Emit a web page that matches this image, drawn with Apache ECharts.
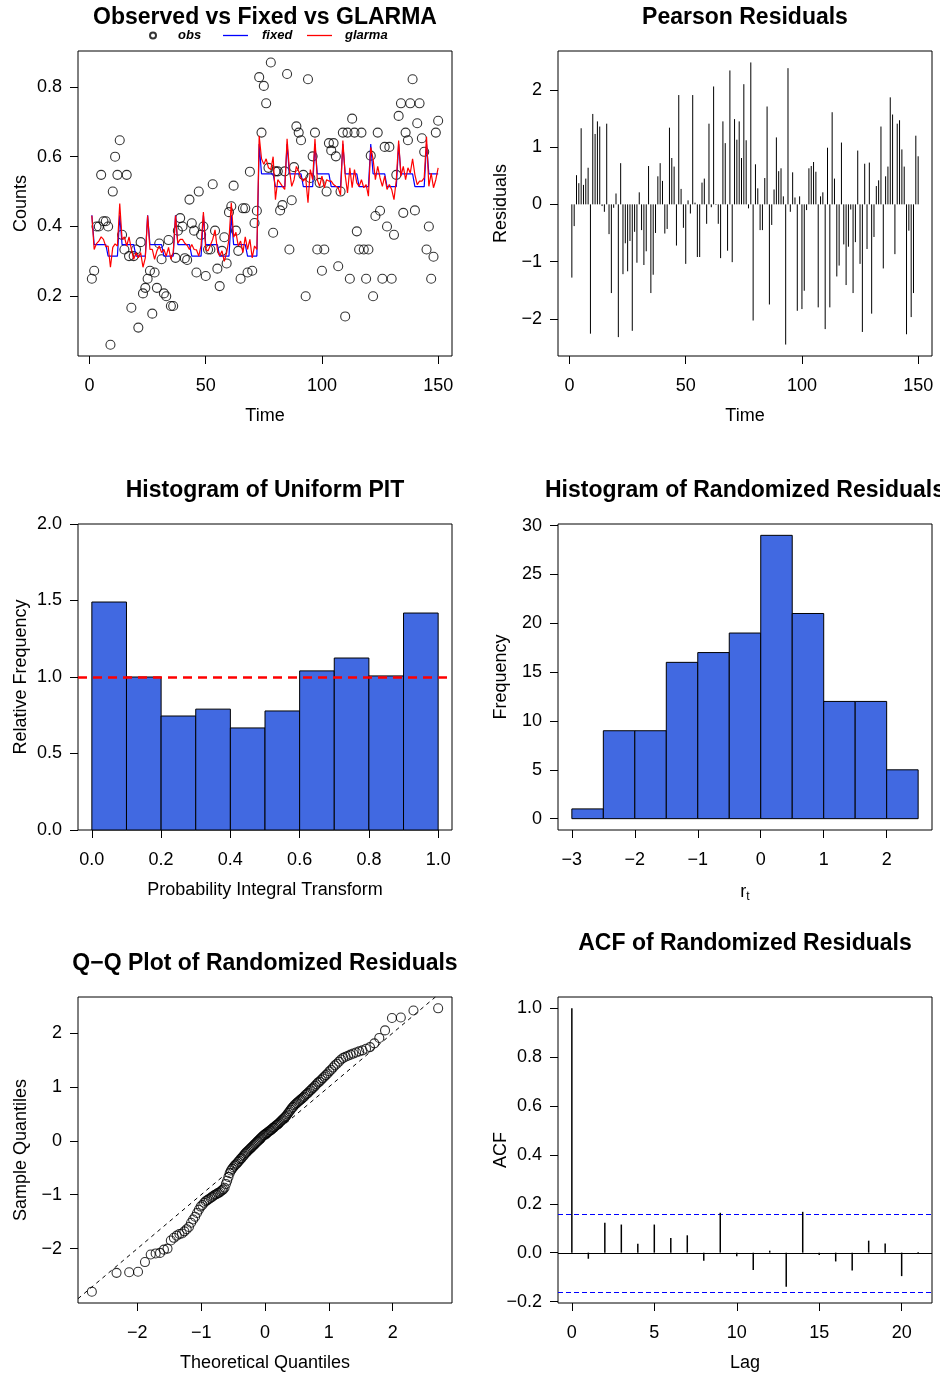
<!DOCTYPE html>
<html>
<head>
<meta charset="utf-8">
<script src="https://cdn.jsdelivr.net/npm/echarts@6/dist/echarts.min.js"></script>
<style>
  html, body { margin: 0; padding: 0; background: #fff; }
  #chart { width: 940px; height: 1377px; }
</style>
</head>
<body>
<div id="chart"></div>
<script>
// observed proportions, fixed-effects fit and GLARMA fit, t = 1..150
const obsCounts = [
  0.25, 0.273, 0.40, 0.40, 0.548, 0.415, 0.415, 0.40, 0.061, 0.50,
  0.60, 0.548, 0.647, 0.376, 0.334, 0.548, 0.315, 0.167, 0.315, 0.334,
  0.11, 0.355, 0.208, 0.224, 0.25, 0.273, 0.15, 0.268, 0.224, 0.351,
  0.306, 0.208, 0.20, 0.361, 0.172, 0.172, 0.31, 0.388, 0.424, 0.40,
  0.309, 0.304, 0.477, 0.409, 0.388, 0.268, 0.50, 0.376, 0.40, 0.258,
  0.334, 0.334, 0.521, 0.388, 0.279, 0.229, 0.33, 0.369, 0.294, 0.441,
  0.458, 0.517, 0.388, 0.33, 0.25, 0.452, 0.452, 0.268, 0.557, 0.273,
  0.41, 0.445, 0.828, 0.669, 0.803, 0.753, 0.568, 0.87, 0.382, 0.558,
  0.558, 0.446, 0.461, 0.558, 0.837, 0.334, 0.475, 0.57, 0.687, 0.669,
  0.647, 0.548, 0.20, 0.822, 0.539, 0.601, 0.669, 0.334, 0.525, 0.273,
  0.334, 0.50, 0.639, 0.618, 0.639, 0.601, 0.286, 0.50, 0.669, 0.142,
  0.669, 0.25, 0.709, 0.669, 0.386, 0.334, 0.669, 0.334, 0.25, 0.334,
  0.603, 0.20, 0.43, 0.669, 0.445, 0.25, 0.628, 0.40, 0.628, 0.25,
  0.376, 0.548, 0.717, 0.753, 0.439, 0.669, 0.647, 0.753, 0.822, 0.446,
  0.696, 0.753, 0.653, 0.614, 0.334, 0.40, 0.25, 0.313, 0.669, 0.703
];
const fixedFit = [
  0.432, 0.348, 0.348, 0.348, 0.348, 0.348, 0.348, 0.315, 0.315, 0.315, 0.315, 0.315,
  0.432, 0.348, 0.348, 0.348, 0.348, 0.348, 0.348, 0.315, 0.315, 0.315, 0.315, 0.315,
  0.432, 0.348, 0.348, 0.348, 0.348, 0.348, 0.348, 0.315, 0.315, 0.315, 0.315, 0.315,
  0.432, 0.348, 0.348, 0.348, 0.348, 0.348, 0.348, 0.315, 0.315, 0.315, 0.315, 0.315,
  0.432, 0.348, 0.348, 0.348, 0.348, 0.348, 0.348, 0.315, 0.315, 0.315, 0.315, 0.315,
  0.432, 0.348, 0.348, 0.348, 0.348, 0.348, 0.348, 0.315, 0.315, 0.315, 0.315, 0.315,
  0.636, 0.551, 0.551, 0.551, 0.551, 0.551, 0.551, 0.514, 0.514, 0.514, 0.514, 0.514,
  0.636, 0.551, 0.551, 0.551, 0.551, 0.551, 0.551, 0.514, 0.514, 0.514, 0.514, 0.514,
  0.636, 0.551, 0.551, 0.551, 0.551, 0.551, 0.551, 0.514, 0.514, 0.514, 0.514, 0.514,
  0.636, 0.551, 0.551, 0.551, 0.551, 0.551, 0.551, 0.514, 0.514, 0.514, 0.514, 0.514,
  0.636, 0.551, 0.551, 0.551, 0.551, 0.551, 0.551, 0.514, 0.514, 0.514, 0.514, 0.514,
  0.636, 0.551, 0.551, 0.551, 0.551, 0.551, 0.551, 0.514, 0.514, 0.514, 0.514, 0.514,
  0.636, 0.551, 0.551, 0.551, 0.551, 0.551
];
const glarmaFit = [
  0.431, 0.334, 0.351, 0.358, 0.37, 0.363, 0.342, 0.344, 0.283, 0.34,
  0.35, 0.344, 0.466, 0.363, 0.37, 0.344, 0.37, 0.334, 0.306, 0.325,
  0.31, 0.325, 0.283, 0.31, 0.431, 0.334, 0.334, 0.306, 0.33, 0.344,
  0.325, 0.334, 0.315, 0.34, 0.306, 0.325, 0.431, 0.352, 0.363, 0.363,
  0.352, 0.346, 0.334, 0.348, 0.334, 0.333, 0.315, 0.346, 0.441, 0.334,
  0.33, 0.346, 0.363, 0.39, 0.334, 0.315, 0.33, 0.30, 0.325, 0.363,
  0.468, 0.369, 0.383, 0.344, 0.358, 0.325, 0.37, 0.334, 0.363, 0.31,
  0.344, 0.334, 0.66, 0.594, 0.578, 0.594, 0.568, 0.563, 0.60, 0.477,
  0.534, 0.525, 0.515, 0.506, 0.651, 0.563, 0.515, 0.534, 0.572, 0.558,
  0.539, 0.53, 0.539, 0.468, 0.563, 0.534, 0.651, 0.534, 0.515, 0.544,
  0.511, 0.534, 0.53, 0.53, 0.52, 0.515, 0.511, 0.49, 0.646, 0.548,
  0.496, 0.568, 0.511, 0.563, 0.525, 0.515, 0.534, 0.511, 0.52, 0.487,
  0.627, 0.594, 0.534, 0.572, 0.539, 0.515, 0.544, 0.506, 0.52, 0.506,
  0.477, 0.534, 0.646, 0.544, 0.572, 0.534, 0.568, 0.553, 0.594, 0.548,
  0.52, 0.53, 0.53, 0.539, 0.657, 0.515, 0.553, 0.511, 0.534, 0.568
];
const pearsonResid = [
  -1.28, -0.38, 0.51, 0.37, 1.33, 0.34, 0.45, 0.64, -2.26, 1.58,
  1.23, 1.45, 1.36, -0.03, -0.13, 1.41, -0.52, -1.55, -0.06, 0.19,
  -2.32, 0.72, -1.22, -0.68, -1.17, -0.64, -2.21, -0.48, -1.02, 0.21,
  -0.45, -1.06, -0.82, 0.67, -1.55, -1.23, -0.50, 0.49, 0.72, 0.41,
  -0.51, -0.43, 1.34, 0.81, 0.66, -0.72, 1.91, 0.27, -0.41, -1.04,
  0.07, -0.16, 1.91, 0.03, -0.92, -0.92, 0.38, 0.45, -0.34, 1.41,
  -0.05, 2.06, -0.01, -0.34, -0.94, 1.45, 1.07, -0.81, 2.34, -1.01,
  1.49, 1.13, 1.45, 0.81, 2.10, 1.12, -0.07, 2.48, -2.03, 0.70,
  0.28, -0.45, -0.45, 0.46, 1.71, -1.75, -0.36, 0.26, 1.17, 0.58,
  0.63, 0.14, -2.45, 2.38, -0.13, 0.56, 0.12, -1.86, 0.14, -1.83,
  -1.51, -0.10, 0.63, 0.67, 0.74, 0.57, -1.80, 0.14, 0.21, -2.18,
  0.99, -1.80, 1.61, 0.45, -1.26, -1.07, 1.08, -0.70, -1.41, -0.74,
  -0.09, -1.55, -0.66, 0.94, -1.04, -2.23, 0.71, -0.78, 0.73, -1.91,
  -0.57, 0.32, 0.42, 1.36, -1.12, 0.49, 0.66, 1.87, 1.57, -0.87,
  1.41, 1.47, 0.96, 0.66, -2.27, -0.46, -1.97, -1.55, 1.20, 0.84
];
const timeTicks = [0, 50, 100, 150];
const countTicks = [0.2, 0.4, 0.6, 0.8];
const residTicks = [-2, -1, 0, 1, 2];

// uniform PIT histogram
const pitBreaks = [0, 0.1, 0.2, 0.3, 0.4, 0.5, 0.6, 0.7, 0.8, 0.9, 1.0];
const pitDensity = [1.49, 1.0, 0.745, 0.79, 0.667, 0.778, 1.04, 1.124, 1.007, 1.418];
const pitXTicks = [0, 0.2, 0.4, 0.6, 0.8, 1.0];
const pitYTicks = [0, 0.5, 1.0, 1.5, 2.0];

// randomized residual histogram
const rrBreaks = [-3, -2.5, -2, -1.5, -1, -0.5, 0, 0.5, 1, 1.5, 2, 2.5];
const rrCounts = [1, 9, 9, 16, 17, 19, 29, 21, 12, 12, 5];
const rrXTicks = [-3, -2, -1, 0, 1, 2];
const rrYTicks = [0, 5, 10, 15, 20, 25, 30];

// sorted randomized residuals for the normal Q-Q plot
const qqSample = [
  -2.80, -2.45, -2.44, -2.43, -2.25, -2.11, -2.09, -2.08, -2.02, -2.00,
  -1.85, -1.80, -1.76, -1.73, -1.72, -1.68, -1.64, -1.60, -1.52, -1.46,
  -1.41, -1.34, -1.28, -1.22, -1.19, -1.15, -1.12, -1.10, -1.08, -1.06,
  -1.04, -1.02, -1.00, -0.99, -0.97, -0.96, -0.94, -0.92, -0.90, -0.87,
  -0.80, -0.74, -0.67, -0.60, -0.55, -0.52, -0.49, -0.46, -0.44, -0.42,
  -0.39, -0.37, -0.34, -0.32, -0.29, -0.27, -0.24, -0.22, -0.20, -0.18,
  -0.16, -0.14, -0.12, -0.10, -0.08, -0.06, -0.04, -0.02, 0.00, 0.02,
  0.04, 0.06, 0.08, 0.10, 0.11, 0.13, 0.14, 0.16, 0.17, 0.19,
  0.20, 0.22, 0.24, 0.25, 0.27, 0.29, 0.30, 0.32, 0.34, 0.36,
  0.38, 0.40, 0.42, 0.44, 0.46, 0.49, 0.52, 0.55, 0.58, 0.61,
  0.63, 0.66, 0.68, 0.70, 0.72, 0.74, 0.76, 0.78, 0.80, 0.82,
  0.85, 0.87, 0.89, 0.92, 0.94, 0.97, 0.99, 1.02, 1.05, 1.08,
  1.10, 1.13, 1.16, 1.19, 1.22, 1.25, 1.29, 1.32, 1.36, 1.40,
  1.43, 1.47, 1.51, 1.54, 1.56, 1.58, 1.60, 1.62, 1.64, 1.66,
  1.68, 1.71, 1.74, 1.81, 1.91, 2.05, 2.28, 2.29, 2.42, 2.46
];
const qqTicks = [-2, -1, 0, 1, 2];

// autocorrelation of randomized residuals
const acfLags = [0, 1, 2, 3, 4, 5, 6, 7, 8, 9, 10, 11, 12, 13, 14, 15, 16, 17, 18, 19, 20, 21];
const acfValues = [1.0, -0.025, 0.122, 0.115, 0.036, 0.115, 0.06, 0.071, -0.033, 0.163, -0.015,
  -0.071, 0.008, -0.14, 0.167, -0.01, -0.036, -0.073, 0.049, 0.037, -0.096, 0.003];
const acfBound = 0.16;
const acfXTicks = [0, 5, 10, 15, 20];
const acfYTicks = [-0.2, 0, 0.2, 0.4, 0.6, 0.8, 1.0];

const font = 'Liberation Sans, Arial, Helvetica, sans-serif';
const minus = s => String(s).replace('-', '\u2212');
const fmt0 = v => minus(v);
const fmt1 = v => minus(v.toFixed(1));

// R's ppoints / qnorm for theoretical quantiles
function qnorm(p) {
  const a = [-3.969683028665376e+01, 2.209460984245205e+02, -2.759285104469687e+02, 1.383577518672690e+02, -3.066479806614716e+01, 2.506628277459239e+00];
  const b = [-5.447609879822406e+01, 1.615858368580409e+02, -1.556989798598866e+02, 6.680131188771972e+01, -1.328068155288572e+01];
  const c = [-7.784894002430293e-03, -3.223964580411365e-01, -2.400758277161838e+00, -2.549732539343734e+00, 4.374664141464968e+00, 2.938163982698783e+00];
  const d = [7.784695709041462e-03, 3.224671290700398e-01, 2.445134137142996e+00, 3.754408661907416e+00];
  const pl = 0.02425;
  if (p < pl) {
    const q = Math.sqrt(-2 * Math.log(p));
    return (((((c[0] * q + c[1]) * q + c[2]) * q + c[3]) * q + c[4]) * q + c[5]) / ((((d[0] * q + d[1]) * q + d[2]) * q + d[3]) * q + 1);
  }
  if (p > 1 - pl) {
    const q = Math.sqrt(-2 * Math.log(1 - p));
    return -(((((c[0] * q + c[1]) * q + c[2]) * q + c[3]) * q + c[4]) * q + c[5]) / ((((d[0] * q + d[1]) * q + d[2]) * q + d[3]) * q + 1);
  }
  const q = p - 0.5, r = q * q;
  return (((((a[0] * r + a[1]) * r + a[2]) * r + a[3]) * r + a[4]) * r + a[5]) * q / (((((b[0] * r + b[1]) * r + b[2]) * r + b[3]) * r + b[4]) * r + 1);
}

const timeIndex = obsCounts.map((v, i) => i + 1);
const qqTheory = qqSample.map((v, i) => qnorm((i + 0.5) / qqSample.length));

const qqX = [-2.93, 2.93], qqY = [-3.01, 2.67];
const qqLo = Math.max(qqX[0], qqY[0]), qqHi = Math.min(qqX[1], qqY[1]);

const panels = [
  { left: 78, top: 51, height: 305 },
  { left: 558, top: 51, height: 305 },
  { left: 78, top: 524, height: 306 },
  { left: 558, top: 524, height: 306 },
  { left: 78, top: 997, height: 306 },
  { left: 558, top: 997, height: 306 }
];

function axis(gridIndex, min, max, ticks, fmt, name, isY) {
  return {
    type: 'value', gridIndex, min, max,
    name, nameLocation: 'middle', nameGap: isY ? 48 : 51, nameMoveOverlap: false,
    nameTextStyle: { color: '#000', fontSize: 18, fontFamily: font },
    axisLine: { show: false, onZero: false },
    axisTick: { show: true, length: 8, lineStyle: { color: '#000', width: 1 }, customValues: ticks },
    axisLabel: { color: '#000', fontSize: 18, fontFamily: font, margin: isY ? 16 : 21, customValues: ticks, formatter: fmt },
    splitLine: { show: false }
  };
}

function title(text, x, top) {
  return { text, left: x, top, textAlign: 'center', padding: 0,
    textStyle: { fontSize: 23, fontWeight: 'bold', color: '#000', fontFamily: font } };
}

function histItem(api) {
  const p0 = api.coord([api.value(0), api.value(2)]);
  const p1 = api.coord([api.value(1), 0]);
  return {
    type: 'rect',
    shape: { x: p0[0], y: p0[1], width: p1[0] - p0[0], height: p1[1] - p0[1] },
    style: { fill: '#4169E1', stroke: '#000', lineWidth: 1 }
  };
}

function spikeItem(api, width) {
  const a = api.coord([api.value(0), 0]);
  const b = api.coord([api.value(0), api.value(1)]);
  return {
    type: 'line',
    shape: { x1: a[0], y1: a[1], x2: b[0], y2: b[1] },
    style: { stroke: '#000', lineWidth: width }
  };
}

// horizontal reference lines across the ACF panel: [level, colour, dash]
const acfRefLines = [
  [0, '#000000', null],
  [acfBound, '#0000FF', [5, 3]],
  [-acfBound, '#0000FF', [5, 3]]
];

function refLineItem(params, api) {
  const cs = params.coordSys;
  // snap to the pixel centre so the thin line keeps its colour
  const y = Math.round(api.coord([0, api.value(1)])[1]) + 0.5;
  const ref = acfRefLines[params.dataIndex];
  return {
    type: 'line',
    shape: { x1: cs.x, y1: y, x2: cs.x + cs.width, y2: y },
    style: { stroke: ref[1], lineWidth: 1.1, lineDash: ref[2] }
  };
}

const legendText = pad => ({ fontSize: 13, fontWeight: 'bold', fontStyle: 'italic', color: '#000',
  fontFamily: font, padding: [0, 0, 0, pad] });

const option = {
  animation: false,
  backgroundColor: '#fff',
  title: [
    title('Observed vs Fixed vs GLARMA', 265, 6),
    title('Pearson Residuals', 745, 6),
    title('Histogram of Uniform PIT', 265, 479),
    title('Histogram of Randomized Residuals', 745, 479),
    title('Q\u2212Q Plot of Randomized Residuals', 265, 952),
    title('ACF of Randomized Residuals', 745, 932)
  ],
  legend: [
    { data: [{ name: 'obs', icon: 'circle' }], left: 149, top: 29, padding: 0, itemWidth: 6, itemHeight: 6,
      selectedMode: false, textStyle: legendText(17) },
    { data: [{ name: 'fixed', icon: 'rect' }], left: 223, top: 29, padding: 0, itemWidth: 25, itemHeight: 1.3,
      selectedMode: false, textStyle: legendText(9) },
    { data: [{ name: 'glarma', icon: 'rect' }], left: 307, top: 29, padding: 0, itemWidth: 25, itemHeight: 1.3,
      selectedMode: false, textStyle: legendText(8) }
  ],
  grid: panels.map(p => ({ left: p.left, top: p.top, width: 374, height: p.height,
    show: true, borderColor: '#000', borderWidth: 1, backgroundColor: 'transparent' })),
  xAxis: [
    axis(0, -4.96, 155.96, timeTicks, fmt0, 'Time', false),
    axis(1, -4.96, 155.96, timeTicks, fmt0, 'Time', false),
    axis(2, -0.04, 1.04, pitXTicks, fmt1, 'Probability Integral Transform', false),
    Object.assign(axis(3, -3.22, 2.72, rrXTicks, fmt0, '{r|r}{t|t}', false), {
      nameTextStyle: { color: '#000', fontFamily: font,
        rich: { r: { fontSize: 18, color: '#000', fontFamily: font },
                t: { fontSize: 12, color: '#000', fontFamily: font, padding: [10, 0, 0, 0] } } }
    }),
    axis(4, qqX[0], qqX[1], qqTicks, fmt0, 'Theoretical Quantiles', false),
    axis(5, -0.84, 21.84, acfXTicks, fmt0, 'Lag', false)
  ],
  yAxis: [
    axis(0, 0.0286, 0.903, countTicks, fmt1, 'Counts', true),
    axis(1, -2.65, 2.68, residTicks, fmt0, 'Residuals', true),
    axis(2, 0, 2, pitYTicks, fmt1, 'Relative Frequency', true),
    axis(3, -1.16, 30.16, rrYTicks, fmt0, 'Frequency', true),
    axis(4, qqY[0], qqY[1], qqTicks, fmt0, 'Sample Quantiles', true),
    axis(5, -0.206, 1.046, acfYTicks, fmt1, 'ACF', true)
  ],
  series: [
    {
      name: 'obs', type: 'scatter', xAxisIndex: 0, yAxisIndex: 0,
      data: obsCounts.map((v, i) => [timeIndex[i], v]),
      symbol: 'circle', symbolSize: 9,
      itemStyle: { color: 'rgba(0,0,0,0)', borderColor: '#000', borderWidth: 1.1 }
    },
    {
      name: 'fixed', type: 'line', xAxisIndex: 0, yAxisIndex: 0,
      data: fixedFit.map((v, i) => [timeIndex[i], v]),
      symbol: 'none', lineStyle: { color: '#0000FF', width: 1.2 }, itemStyle: { color: '#0000FF' }
    },
    {
      name: 'glarma', type: 'line', xAxisIndex: 0, yAxisIndex: 0,
      data: glarmaFit.map((v, i) => [timeIndex[i], v]),
      symbol: 'none', lineStyle: { color: '#FF0000', width: 1.2 }, itemStyle: { color: '#FF0000' }
    },
    {
      type: 'custom', xAxisIndex: 1, yAxisIndex: 1,
      data: pearsonResid.map((v, i) => [timeIndex[i], v]),
      renderItem: (params, api) => spikeItem(api, 1)
    },
    {
      type: 'custom', xAxisIndex: 2, yAxisIndex: 2,
      data: pitDensity.map((v, i) => [pitBreaks[i], pitBreaks[i + 1], v]),
      encode: { x: [0, 1], y: 2 },
      renderItem: (params, api) => histItem(api),
      markLine: {
        silent: true, symbol: 'none', label: { show: false },
        lineStyle: { color: '#FF0000', width: 2.6, type: [9, 6] },
        data: [{ yAxis: 1 }]
      }
    },
    {
      type: 'custom', xAxisIndex: 3, yAxisIndex: 3,
      data: rrCounts.map((v, i) => [rrBreaks[i], rrBreaks[i + 1], v]),
      encode: { x: [0, 1], y: 2 },
      renderItem: (params, api) => histItem(api)
    },
    {
      type: 'line', xAxisIndex: 4, yAxisIndex: 4,
      data: [[qqLo, qqLo], [qqHi, qqHi]],
      symbol: 'none', silent: true,
      lineStyle: { color: '#000', width: 1, type: [4, 4] }
    },
    {
      type: 'scatter', xAxisIndex: 4, yAxisIndex: 4,
      data: qqSample.map((v, i) => [qqTheory[i], v]),
      symbol: 'circle', symbolSize: 9,
      itemStyle: { color: 'rgba(0,0,0,0)', borderColor: '#000', borderWidth: 1.1 }
    },
    {
      type: 'custom', xAxisIndex: 5, yAxisIndex: 5,
      data: acfRefLines.map(r => [0, r[0]]),
      renderItem: refLineItem
    },
    {
      type: 'custom', xAxisIndex: 5, yAxisIndex: 5,
      data: acfValues.map((v, i) => [acfLags[i], v]),
      renderItem: (params, api) => spikeItem(api, 1.5)
    }
  ]
};

const chart = echarts.init(document.getElementById('chart'), null, { renderer: 'canvas' });
chart.setOption(option);
</script>
</body>
</html>
